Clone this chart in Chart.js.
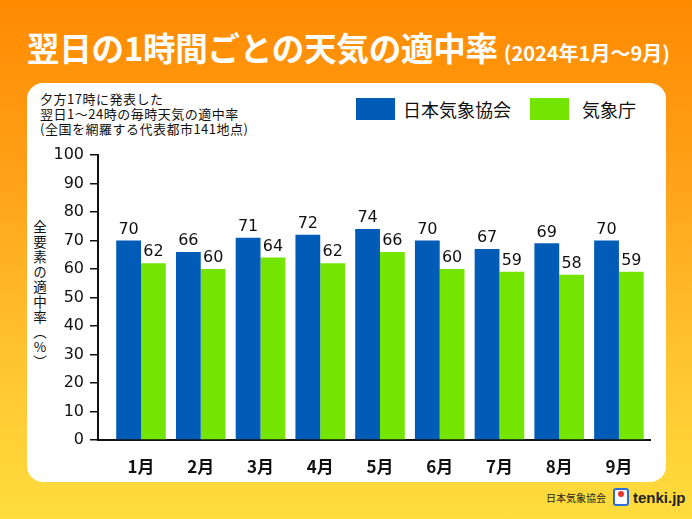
<!DOCTYPE html>
<html lang="ja">
<head>
<meta charset="utf-8">
<script src="https://cdn.jsdelivr.net/npm/chart.js@4/dist/chart.umd.min.js"></script>
<style>
  html, body { margin: 0; padding: 0; }
  body {
    width: 692px; height: 519px; position: relative; overflow: hidden;
    background: linear-gradient(180deg, #ff8a00 0%, #ffa21a 35%, #ffc531 70%, #ffdd3e 100%);
    font-family: "Noto Sans CJK JP", "Noto Sans", sans-serif;
  }
  .title {
    position: absolute; left: 27px; top: 28px; color: #fff; white-space: nowrap;
    display: flex; align-items: baseline;
  }
  .title .main { font-size: 32.5px; font-weight: bold; line-height: 38px; letter-spacing: -0.2px; }
  .title .sub { font-size: 20px; font-weight: bold; margin-left: 6px; }
  .panel {
    position: absolute; left: 27px; top: 83px; width: 639px; height: 399px;
    background: #fff; border-radius: 16px;
  }
  .note {
    position: absolute; left: 40px; top: 91px; font-size: 13px; line-height: 15px; color: #111;
    letter-spacing: 0.5px;
  }
  .legend { position: absolute; top: 98px; font-size: 18px; line-height: 22px; color: #111; }
  .legend .sw { position: absolute; top: 0; width: 39px; height: 22px; }
  .legend .tx { position: absolute; top: 0; white-space: nowrap; }
  .ylabel {
    position: absolute; left: 31px; top: 220px; writing-mode: vertical-rl;
    font-size: 13.5px; line-height: 18px; letter-spacing: 1.5px; color: #111;
  }
  .ylabel .up { text-orientation: upright; }
  .footer { position: absolute; top: 487px; left: 546px; height: 20px; display: flex; align-items: center; }
  .footer .org { font-size: 10px; color: #222; }
  .footer .logo {
    width: 12px; height: 14px; margin-left: 7px; border: 2px solid #2d6fd8; border-radius: 3px;
    background: #fff; position: relative;
  }
  .footer .logo::after {
    content: ""; position: absolute; left: 3px; top: 1px; width: 6px; height: 6px; border-radius: 50%; background: #e8362d;
  }
  .footer .brand { font-family: "Liberation Sans", Arial, sans-serif; font-weight: bold; font-size: 15px; color: #222; margin-left: 4px; }
  canvas { position: absolute; left: 0; top: 0; }
</style>
</head>
<body>
<div class="title"><span class="main">翌日の1時間ごとの天気の適中率</span><span class="sub">(2024年1月～9月)</span></div>
<div class="panel"></div>
<div class="note">夕方17時に発表した<br>翌日1～24時の毎時天気の適中率<br>(全国を網羅する代表都市141地点)</div>
<div class="ylabel">全要素の適中率（<span class="up">%</span>）</div>
<div id="legend"></div>
<div class="footer"><span class="org">日本気象協会</span><span class="logo"></span><span class="brand">tenki.jp</span></div>
<canvas id="chart-rate" width="692" height="519"></canvas>

<script>
// ===== 翌日の1時間ごとの天気の適中率 =====

const MONTHS   = ['1月', '2月', '3月', '4月', '5月', '6月', '7月', '8月', '9月'];
const JWA_RATE = [70, 66, 71, 72, 74, 70, 67, 69, 70];   // 日本気象協会
const JMA_RATE = [62, 60, 64, 62, 66, 60, 59, 58, 59];   // 気象庁
const SERIES_NAMES = ['日本気象協会', '気象庁'];
const Y_TICKS = [0, 10, 20, 30, 40, 50, 60, 70, 80, 90, 100];

const COLOR_JWA = '#005cb6';
const COLOR_JMA = '#73e500';

// Legend (HTML)
const legendEl = document.getElementById('legend');
[[COLOR_JWA, SERIES_NAMES[0], 356, 403], [COLOR_JMA, SERIES_NAMES[1], 530, 582]].forEach(([col, name, swX, txX]) => {
  legendEl.insertAdjacentHTML('beforeend',
    `<div class="legend"><span class="sw" style="left:${swX}px;background:${col}"></span><span class="tx" style="left:${txX}px">${name}</span></div>`);
});

// Value labels above bars
const valueLabels = {
  id: 'valueLabels',
  afterDatasetsDraw(chart) {
    const { ctx } = chart;
    ctx.save();
    ctx.font = '16px "DejaVu Sans", sans-serif';
    ctx.fillStyle = '#111';
    ctx.textAlign = 'center';
    ctx.textBaseline = 'bottom';
    chart.data.datasets.forEach((ds, di) => {
      chart.getDatasetMeta(di).data.forEach((bar, i) => {
        ctx.fillText(String(ds.data[i].y), bar.x, bar.y - 3);
      });
    });
    ctx.restore();
  },
};

const ctx = document.getElementById('chart-rate').getContext('2d');
new Chart(ctx, {
  type: 'bar',
  data: {
    datasets: [
      { label: SERIES_NAMES[0], data: JWA_RATE.map((v, i) => ({ x: i, y: v })), backgroundColor: COLOR_JWA },
      { label: SERIES_NAMES[1], data: JMA_RATE.map((v, i) => ({ x: i, y: v })), backgroundColor: COLOR_JMA },
    ],
  },
  options: {
    responsive: false,
    animation: false,
    devicePixelRatio: 1,
    categoryPercentage: 0.83,
    barPercentage: 1.0,
    layout: { padding: { left: 0, top: 155, right: 42, bottom: 0 } },
    plugins: { legend: { display: false }, tooltip: { enabled: false } },
    scales: {
      x: {
        type: 'linear',
        min: -0.72,
        max: 8.52,
        bounds: 'data',
        offset: false,
        grid: { display: false, offset: false },
        border: { display: true, color: '#111', width: 2 },
        afterBuildTicks: s => { s.ticks = MONTHS.map((_, i) => ({ value: i })); },
        afterFit: s => { s.height = 79; },
        ticks: {
          autoSkip: false,
          maxRotation: 0,
          padding: 8,
          color: '#111',
          font: { family: '"Noto Sans CJK JP", sans-serif', size: 17, weight: 'bold' },
          callback: v => MONTHS[v] ?? '',
        },
      },
      y: {
        min: 0,
        max: 100,
        afterBuildTicks: s => { s.ticks = Y_TICKS.map(v => ({ value: v })); },
        afterFit: s => { s.width = 98; },
        grid: { drawOnChartArea: false, drawTicks: true, tickLength: 8, color: '#111', lineWidth: 1.5 },
        border: { display: true, color: '#111', width: 2 },
        ticks: {
          padding: 6,
          color: '#111',
          font: { family: '"DejaVu Sans", sans-serif', size: 16 },
        },
      },
    },
  },
  plugins: [valueLabels],
});
</script>
</body>
</html>
